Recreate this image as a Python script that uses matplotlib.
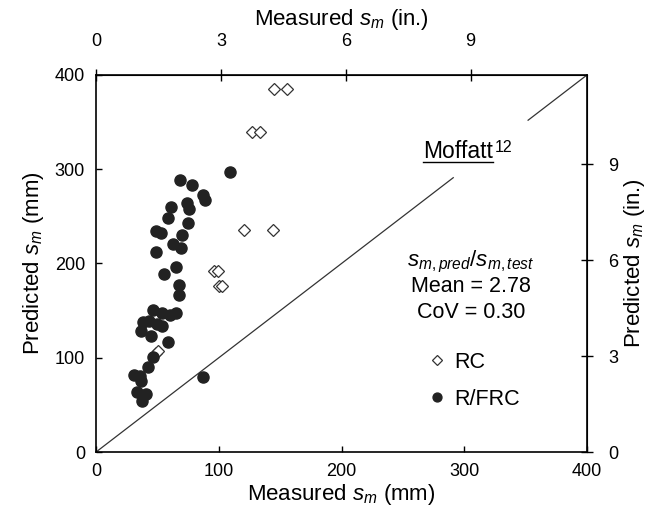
import matplotlib
matplotlib.use('Agg')
from matplotlib import pyplot as plt
from matplotlib.lines import Line2D
import numpy as np

plt.rcParams['font.family'] = ['Liberation Sans', 'DejaVu Sans']
plt.rcParams['mathtext.fontset'] = 'custom'
plt.rcParams['mathtext.rm'] = 'Liberation Sans'
plt.rcParams['mathtext.it'] = 'Liberation Sans:italic'

# RC specimens (measured mm, predicted mm)
rc_meas = [145.0, 155.4, 126.8, 133.6, 120.6, 144.0, 96.0, 99.0, 100.0, 103.0, 48.9, 50.5]
rc_pred = [385.1, 385.1, 339.8, 339.8, 235.5, 235.5, 192.0, 192.0, 176.1, 176.1, 105.0, 107.0]

# R/FRC specimens
frc_meas = [68.7, 78.5, 87.4, 89.0, 60.9, 74.4, 75.8, 58.4, 74.9, 48.9,
            52.7, 70.3, 63.0, 69.5, 48.6, 65.2, 109.2, 55.4, 67.9, 67.4,
            46.7, 53.5, 60.3, 65.2, 38.5, 43.4, 49.4, 53.8, 36.4, 44.8,
            58.4, 46.2, 42.0, 31.0, 35.8, 36.7, 33.6, 40.7, 37.2, 86.9]
frc_pred = [288.6, 283.0, 273.0, 267.4, 260.3, 263.9, 258.1, 248.0, 243.0, 234.8,
            232.7, 230.6, 221.0, 216.4, 212.5, 196.0, 297.4, 188.5, 177.2, 166.3,
            150.7, 147.5, 145.4, 148.0, 138.3, 139.5, 135.8, 133.7, 128.4, 123.1,
            117.2, 100.5, 89.7, 81.7, 80.6, 75.3, 64.0, 61.2, 53.6, 79.9]

# 1:1 line, broken where the Moffatt label sits
line_seg1 = [0, 291]
line_seg2 = [352, 400]

MM_MAX = 400
IN_MAX = 11.8   # secondary axes span as drawn in the original

fig = plt.figure(figsize=(6.49, 5.17), dpi=100)
ax = fig.add_axes([0.148, 0.1257, 0.7565, 0.7293])

ax.plot(line_seg1, line_seg1, color='#333333', lw=0.9)
ax.plot(line_seg2, line_seg2, color='#333333', lw=0.9)

ax.plot(rc_meas, rc_pred, 'D', ms=6.5, mfc='white', mec='#333333', mew=0.9,
        label='RC', linestyle='none')
ax.plot(frc_meas, frc_pred, 'o', ms=8, mfc='#222222', mec='#222222',
        label='R/FRC', linestyle='none')

ax.set_xlim(0, MM_MAX)
ax.set_ylim(0, MM_MAX)
ax.set_xticks([0, 100, 200, 300, 400])
ax.set_yticks([0, 100, 200, 300, 400])
ax.tick_params(direction='in', length=4.5, width=1, labelsize=13, pad=8)
for sp in ax.spines.values():
    sp.set_linewidth(1.2)

ax.set_xlabel('Measured $s_m$ (mm)', fontsize=16, labelpad=1)
ax.set_ylabel('Predicted $s_m$ (mm)', fontsize=16, labelpad=6)

to_in = lambda v: v * IN_MAX / MM_MAX
to_mm = lambda v: v * MM_MAX / IN_MAX

secx = ax.secondary_xaxis('top', functions=(to_in, to_mm))
secx.set_xticks([0, 3, 6, 9])
secx.tick_params(direction='inout', length=8, width=1, labelsize=13, pad=14)
secx.set_xlabel('Measured $s_m$ (in.)', fontsize=16, labelpad=6)

secy = ax.secondary_yaxis('right', functions=(to_in, to_mm))
secy.set_yticks([0, 3, 6, 9])
secy.tick_params(direction='inout', length=8, width=1, labelsize=13, pad=11)
secy.set_ylabel('Predicted $s_m$ (in.)', fontsize=16, labelpad=3)

# Moffatt label with underline and superscript
t = ax.text(266.6, 312, 'Moffatt', fontsize=16.5, ha='left', va='baseline')
fig.canvas.draw()
bb = t.get_window_extent()
inv = fig.transFigure.inverted()
(x0, y0), (x1, y1) = inv.transform([(bb.x0, bb.y0 + 1), (bb.x1, bb.y0 + 1)])
fig.add_artist(Line2D([x0, x1], [y0, y1], color='black', lw=1.0))
sx, sy = ax.transData.inverted().transform((bb.x1 + 2, bb.y1))
ax.text(sx, sy, '12', fontsize=11.5, ha='left', va='top')

# statistics
ax.text(305.5, 201.6, '$s_{m,pred}/s_{m,test}$', fontsize=16, ha='center', va='center')
ax.text(305.5, 175.1, 'Mean = 2.78', fontsize=15.5, ha='center', va='center')
ax.text(305.5, 147.5, 'CoV = 0.30', fontsize=15.5, ha='center', va='center')

ax.legend(loc='upper left', bbox_to_anchor=(0.66, 0.295), frameon=False,
          fontsize=15.5, handlelength=0.6, handletextpad=0.5, labelspacing=0.75,
          markerscale=0.8, borderpad=0)

plt.savefig('out.png', dpi=100)
